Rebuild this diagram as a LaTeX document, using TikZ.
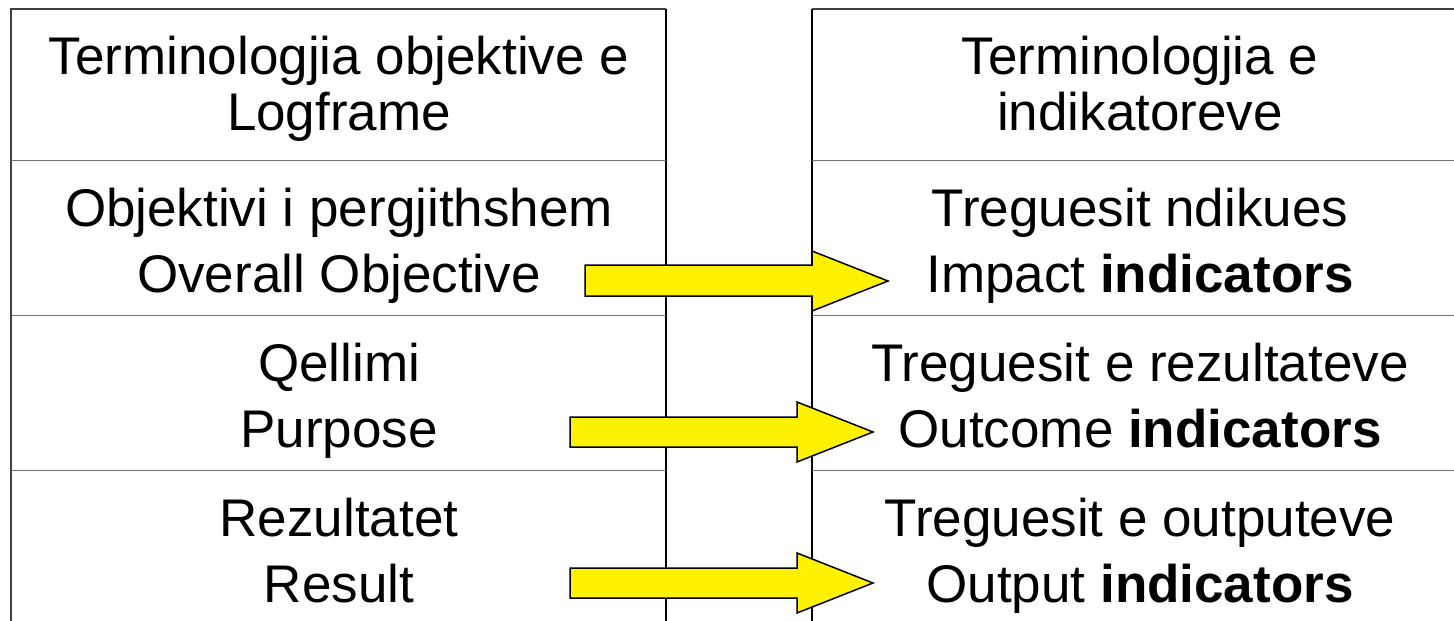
\documentclass[tikz,border=0pt]{standalone}
\usepackage{fontspec}
\setmainfont{Liberation Sans}
\begin{document}
\begin{tikzpicture}[x=1pt,y=-1pt,
  txt/.style={anchor=base,inner sep=0pt,font=\fontsize{53}{60}\selectfont},
  sep/.style={draw=black!55,line width=1pt},
  vline/.style={draw=black,line width=1.5pt},
  frame/.style={draw=black!75,line width=2pt},
  blockarrow/.style={draw=black,line width=1.5pt,fill=yellow,line join=miter}]
\useasboundingbox (0,0) rectangle (1454,621);
\clip (0,0) rectangle (1454,621);
% left table
\draw[frame] (11,660) -- (11,9) -- (666,9);
\draw[vline] (666,9) -- (666,660);
\draw[sep] (11,160) -- (666,160);
\draw[sep] (11,315) -- (666,315);
\draw[sep] (11,470) -- (666,470);
% right table
\draw[frame] (1470,9) -- (812,9);
\draw[vline] (812,9) -- (812,660);
\draw[sep] (812,160) -- (1470,160);
\draw[sep] (812,315) -- (1470,315);
\draw[sep] (812,470) -- (1470,470);
% left texts
\node[txt] (l1a) at (339,74) {Terminologjia objektive e};
\node[txt] (l1b) at (339,130) {Logframe};
\node[txt] (l2a) at (339,226) {Objektivi i pergjithshem};
\node[txt] (l2b) at (339,292) {Overall Objective};
\node[txt] (l3a) at (339,381) {Qellimi};
\node[txt] (l3b) at (339,447) {Purpose};
\node[txt] (l4a) at (339,536) {Rezultatet};
\node[txt] (l4b) at (339,602) {Result};
% right texts
\node[txt] (r1a) at (1140,74) {Terminologjia e};
\node[txt] (r1b) at (1140,130) {indikatoreve};
\node[txt] (r2a) at (1140,226) {Treguesit ndikues};
\node[txt] (r2b) at (1140,292) {Impact \textbf{indicators}};
\node[txt] (r3a) at (1140,381) {Treguesit e rezultateve};
\node[txt] (r3b) at (1140,447) {Outcome \textbf{indicators}};
\node[txt] (r4a) at (1140,536) {Treguesit e outputeve};
\node[txt] (r4b) at (1140,602) {Output \textbf{indicators}};
% block arrows
\draw[blockarrow] (585,265) -- (812,265) -- (812,251) -- (888,281) -- (812,311) -- (812,296) -- (585,296) -- cycle;
\draw[blockarrow] (570,417) -- (797,417) -- (797,402) -- (873,432) -- (797,462) -- (797,447) -- (570,447) -- cycle;
\draw[blockarrow] (570,568) -- (797,568) -- (797,553) -- (873,583) -- (797,613) -- (797,598) -- (570,598) -- cycle;
\end{tikzpicture}
\end{document}
